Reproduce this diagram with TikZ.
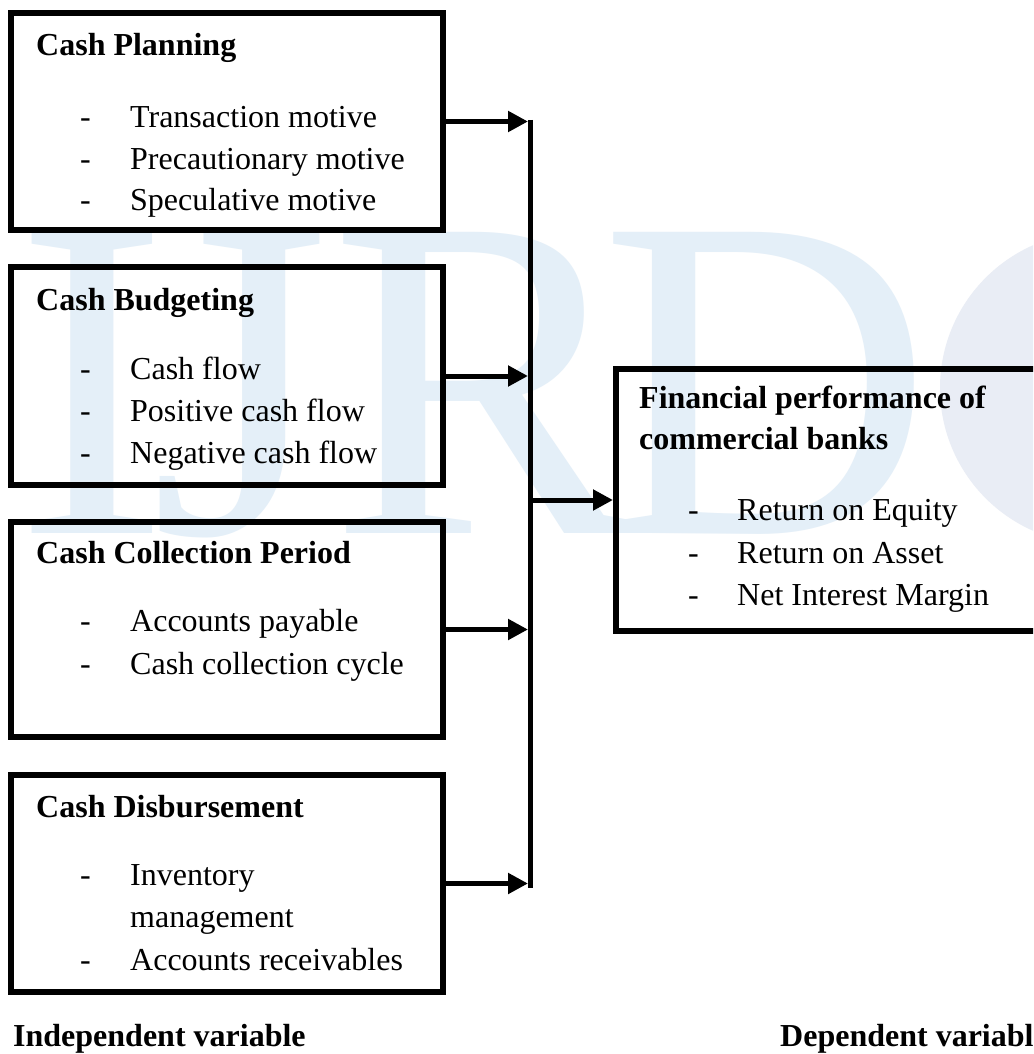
\documentclass[tikz,border=0pt]{standalone}
\usepackage{fontspec}
\setmainfont{Liberation Serif}
\usetikzlibrary{arrows.meta}
\definecolor{wmblue}{HTML}{E4EFF8}
\definecolor{globe}{HTML}{E9EDF5}
\tikzset{
  box/.style={draw=black, line width=6pt, rectangle, inner sep=0pt},
  txt/.style={anchor=base west, inner sep=0pt, font=\fontsize{32}{38}\selectfont},
  ttl/.style={txt, font=\fontsize{32}{38}\selectfont\bfseries},
  wm/.style={anchor=base west, inner sep=0pt, text=wmblue, font=\fontsize{460}{460}\selectfont},
  conn/.style={line width=5pt, -{Triangle[length=20pt,width=20pt]}},
  busline/.style={line width=5pt}
}
\begin{document}
\begin{tikzpicture}[x=1pt,y=-1pt]
\clip (0,0) rectangle (1033,1054);
\fill[white] (0,0) rectangle (1033,1054);
% watermark
\fill[globe] (1096,388) circle[radius=156];
\node[wm] (wI) at (15,533) {I};
\node[wm] (wJ) at (150,533) {J};
\node[wm] (wR) at (330,533) {R};
\node[wm] (wD) at (600,533) {D};
% boxes
\node[box, minimum width=432pt, minimum height=217pt] (b1) at (227,121.5) {};
\node[box, minimum width=432pt, minimum height=218pt] (b2) at (227,376) {};
\node[box, minimum width=432pt, minimum height=215pt] (b3) at (227,629.5) {};
\node[box, minimum width=432pt, minimum height=217pt] (b4) at (227,883.5) {};
\node[box, minimum width=429pt, minimum height=262pt] (b5) at (830.5,500) {};
% box 1
\node[ttl] (t1) at (36,56) {Cash Planning};
\node[txt] (d11) at (80,128) {-};
\node[txt] (i11) at (130,128) {Transaction motive};
\node[txt] (d12) at (80,169) {-};
\node[txt] (i12) at (130,169) {Precautionary motive};
\node[txt] (d13) at (80,210) {-};
\node[txt] (i13) at (130,210) {Speculative motive};
% box 2
\node[ttl] (t2) at (36,310) {Cash Budgeting};
\node[txt] (d21) at (80,379) {-};
\node[txt] (i21) at (130,379) {Cash flow};
\node[txt] (d22) at (80,421) {-};
\node[txt] (i22) at (130,421) {Positive cash flow};
\node[txt] (d23) at (80,463) {-};
\node[txt] (i23) at (130,463) {Negative cash flow};
% box 3
\node[ttl] (t3) at (36,563) {Cash Collection Period};
\node[txt] (d31) at (80,631) {-};
\node[txt] (i31) at (130,631) {Accounts payable};
\node[txt] (d32) at (80,674) {-};
\node[txt] (i32) at (130,674) {Cash collection cycle};
% box 4
\node[ttl] (t4) at (36,817) {Cash Disbursement};
\node[txt] (d41) at (80,885) {-};
\node[txt] (i41) at (130,885) {Inventory};
\node[txt] (i42) at (130,927) {management};
\node[txt] (d43) at (80,970) {-};
\node[txt] (i43) at (130,970) {Accounts receivables};
% box 5
\node[ttl] (t5a) at (639,408) {Financial performance of};
\node[ttl] (t5b) at (639,449) {commercial banks};
\node[txt] (d51) at (688,520) {-};
\node[txt] (i51) at (737,520) {Return on Equity};
\node[txt] (d52) at (688,563) {-};
\node[txt] (i52) at (737,563) {Return on Asset};
\node[txt] (d53) at (688,605) {-};
\node[txt] (i53) at (737,605) {Net Interest Margin};
% labels
\node[ttl] (l1) at (13,1046) {Independent variable};
\node[ttl] (l2) at (780,1046) {Dependent variable};
% connectors
\coordinate (bustop) at (530,120);
\coordinate (busbot) at (530,887.5);
\draw[busline] (bustop) -- (busbot);
\draw[conn] (b1.east) -- (b1.east -| 528,0);
\draw[conn] (b2.east) -- (b2.east -| 528,0);
\draw[conn] (b3.east) -- (b3.east -| 528,0);
\draw[conn] (b4.east) -- (b4.east -| 528,0);
\draw[conn] (b5.west -| bustop) -- (b5.west);
\end{tikzpicture}
\end{document}
